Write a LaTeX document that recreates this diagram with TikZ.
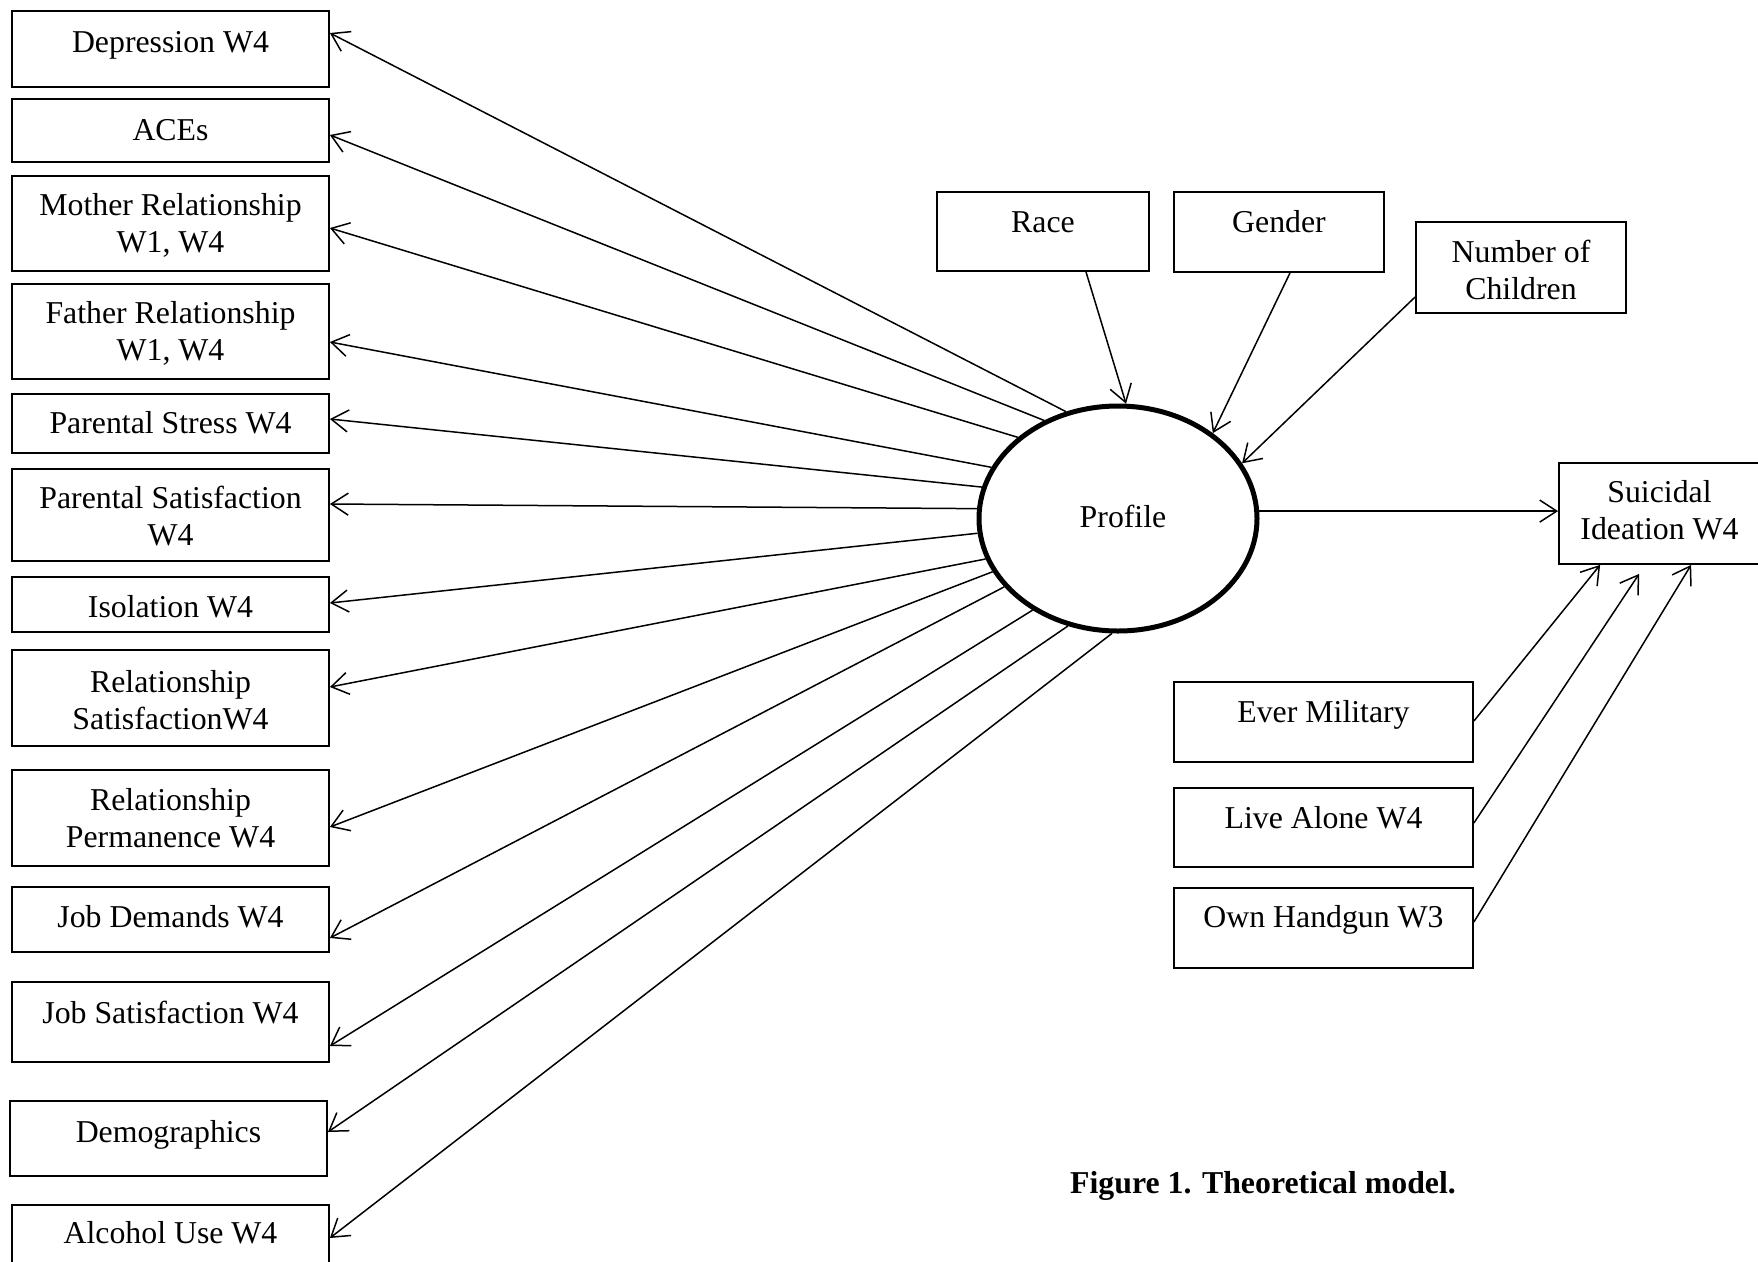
\documentclass[tikz,border=0pt]{standalone}
\usepackage{fontspec}
\setmainfont{Liberation Serif}
\usetikzlibrary{arrows.meta,shapes.geometric}
\begin{document}
\begin{tikzpicture}[x=1pt,y=-1pt,
  box/.style={draw, line width=1.8pt, rectangle, inner sep=0pt},
  txt/.style={inner sep=0pt, align=center, font=\fontsize{31.8}{37}\selectfont},
  one/.style={txt, text height=21.6pt, text depth=0pt},
  arr/.style={line width=1.5pt, -{Straight Barb[length=17pt,width=22pt,line width=1.5pt]}}]
\useasboundingbox (0,0) rectangle (1758,1261);
\clip (0,0) rectangle (1758,1261);
\fill[white] (0,0) rectangle (1758,1261);
% left boxes
\node[box, minimum width=317pt, minimum height=76pt] (dep) at (170.5,49) {};
\node[box, minimum width=317pt, minimum height=63pt] (aces) at (170.5,130.5) {};
\node[box, minimum width=317pt, minimum height=95pt] (moth) at (170.5,223.5) {};
\node[box, minimum width=317pt, minimum height=95pt] (fath) at (170.5,331.5) {};
\node[box, minimum width=317pt, minimum height=59pt] (pstr) at (170.5,423.5) {};
\node[box, minimum width=317pt, minimum height=92pt] (psat) at (170.5,515) {};
\node[box, minimum width=317pt, minimum height=55pt] (iso) at (170.5,604.5) {};
\node[box, minimum width=317pt, minimum height=96pt] (rsat) at (170.5,698) {};
\node[box, minimum width=317pt, minimum height=96pt] (rperm) at (170.5,818) {};
\node[box, minimum width=317pt, minimum height=65pt] (jdem) at (170.5,919.5) {};
\node[box, minimum width=317pt, minimum height=80pt] (jsat) at (170.5,1022) {};
\node[box, minimum width=317pt, minimum height=75pt] (demo) at (168.5,1138.5) {};
\node[box, minimum width=317pt, minimum height=85pt] (alc) at (170.5,1247.5) {};
\node[one] (tdep) at (170.5,42) {Depression W4};
\node[one] (taces) at (170.5,130) {ACEs};
\node[txt] (tmoth) at (170.5,225) {Mother Relationship\\W1, W4};
\node[txt] (tfath) at (170.5,333.5) {Father Relationship\\W1, W4};
\node[one] (tpstr) at (170.5,423) {Parental Stress W4};
\node[txt] (tpsat) at (170.5,516.5) {Parental Satisfaction\\W4};
\node[one] (tiso) at (170.5,607) {Isolation W4};
\node[txt] (trsat) at (170.5,700.5) {Relationship\\SatisfactionW4};
\node[txt] (trperm) at (170.5,818.5) {Relationship\\Permanence W4};
\node[one] (tjdem) at (170.5,917) {Job Demands W4};
\node[one] (tjsat) at (170.5,1013) {Job Satisfaction W4};
\node[one] (tdemo) at (168.5,1132) {Demographics};
\node[one] (talc) at (170.5,1233) {Alcohol Use W4};
% profile
\node[ellipse, draw, line width=5pt, minimum width=278pt, minimum height=225pt, inner sep=0pt] (prof) at (1118,518.5) {};
\node[one] (tprof) at (1123,517) {Profile};
% top boxes
\node[box, minimum width=212pt, minimum height=79pt] (race) at (1043,231.5) {};
\node[box, minimum width=210pt, minimum height=80pt] (gender) at (1279,232) {};
\node[box, minimum width=210pt, minimum height=91pt] (nch) at (1521,267.5) {};
\node[one] (trace) at (1043,222) {Race};
\node[one] (tgender) at (1279,222) {Gender};
\node[txt] (tnch) at (1521,270) {Number of\\Children};
% outcome
\node[box, minimum width=241pt, minimum height=101pt] (sui) at (1679.5,513.5) {};
\node[txt] (tsui) at (1659.5,510) {Suicidal\\Ideation W4};
% right boxes
\node[box, minimum width=299pt, minimum height=80pt] (em) at (1323.5,722) {};
\node[box, minimum width=299pt, minimum height=79pt] (la) at (1323.5,827.5) {};
\node[box, minimum width=299pt, minimum height=80pt] (oh) at (1323.5,928) {};
\node[one] (tem) at (1323.5,712) {Ever Military};
\node[one] (tla) at (1323.5,818) {Live Alone W4};
\node[one] (toh) at (1323.5,917) {Own Handgun W3};
% caption
\node[one, font=\fontsize{31.8}{37}\selectfont\bfseries] (cap) at (1263,1183) {Figure 1. Theoretical model.};
% arrows from profile to left boxes
\draw[arr] (prof.116.5) -- (dep.east |- 0,33);
\draw[arr] (prof.127.7) -- (aces.east |- 0,135);
\draw[arr] (prof.141.8) -- (moth.east |- 0,228);
\draw[arr] (prof.158.2) -- (fath.east |- 0,342);
\draw[arr] (prof.167.2) -- (pstr.east |- 0,419);
\draw[arr] (prof.176.9) -- (psat.east |- 0,504);
\draw[arr] (prof.186.8) -- (iso.east |- 0,603);
\draw[arr] (prof.197.5) -- (rsat.east |- 0,687);
\draw[arr] (prof.203.4) -- (rperm.east |- 0,827);
\draw[arr] (prof.211.8) -- (jdem.east |- 0,938);
\draw[arr] (prof.227.1) -- (jsat.east |- 0,1046);
\draw[arr] (prof.245.8) -- (demo.east |- 0,1132);
\draw[arr] (prof.267) -- (alc.east |- 0,1238);
% top arrows
\draw[arr] ([xshift=43pt]race.south) -- (prof.86.5);
\draw[arr] ([xshift=11pt]gender.south) -- (prof.42.9);
\draw[arr] ([yshift=-29.5pt]nch.west) -- (prof.24.2);
% profile to outcome
\draw[arr] (prof.3.1) -- (sui.west |- prof.3.1);
% right arrows
\draw[arr] ([yshift=1pt]em.east) -- ([xshift=42pt]sui.south west);
\draw[arr] ([yshift=4.5pt]la.east) -- ([xshift=81pt,yshift=-9pt]sui.south west);
\draw[arr] ([yshift=6pt]oh.east) -- ([xshift=133pt]sui.south west);
\end{tikzpicture}
\end{document}
